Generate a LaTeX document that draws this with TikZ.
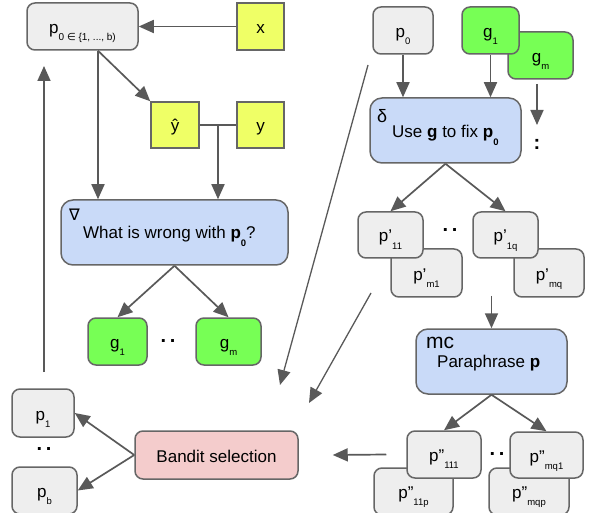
\documentclass[tikz,border=0pt]{standalone}
\usepackage{fontspec}
\setmainfont{Liberation Sans}
\newfontfamily\dejavu{DejaVu Sans}
\usetikzlibrary{arrows.meta}
\definecolor{edge}{HTML}{666666}
\definecolor{wire}{HTML}{595959}
\definecolor{grayfill}{HTML}{EEEEEE}
\definecolor{yellowfill}{HTML}{EFFF66}
\definecolor{greenfill}{HTML}{77FF55}
\definecolor{bluefill}{HTML}{C9DAF8}
\definecolor{pinkfill}{HTML}{F4CCCC}
\tikzset{
  block/.style={
    rectangle,
    rounded corners=8pt,
    draw=edge,
    line width=1.5pt,
    fill=grayfill,
    inner sep=0pt,
    minimum height=47pt,
    text height=20pt,
    text depth=6pt
  },
  varblock/.style={block, rounded corners=0pt, fill=yellowfill, minimum width=47pt},
  gradblock/.style={block, fill=greenfill},
  opblock/.style={block, rounded corners=12pt, fill=bluefill, minimum width=151pt, minimum height=65pt},
  selblock/.style={block, fill=pinkfill},
  dots/.style={font=\bfseries\fontsize{20}{20}\selectfont}
}
\tikzstyle{arrow} = [-{Triangle[length=15pt,width=13pt]}, draw=wire, line width=1.7pt]
\tikzstyle{thin arrow} = [arrow, line width=1.3pt]
\def\lo#1{\raisebox{-.8ex}{\fontsize{9.5}{9.5}\selectfont #1}}
\def\twodots{.\hspace{3.5pt}.}

\begin{document}
\begin{tikzpicture}[x=1pt, y=-1pt, font=\fontsize{17}{20}\selectfont]
    \useasboundingbox (0,0) rectangle (592,513);
    % left part
    \node[block, minimum width=111pt] (p0) at (82.5,26.5) {p\raisebox{-.8ex}{\fontsize{10}{10}\selectfont 0 {\dejavu ∈} \{1, ..., b)}};
    \node[varblock] (x) at (260.5,26.5) {x};
    \node[varblock, minimum width=48pt, minimum height=46pt] (yh) at (175,125) {ŷ};
    \node[varblock, minimum height=46pt] (y) at (260.5,125) {y};
    \node[opblock, minimum width=227pt] (what) at (174.5,232.5) {};
    \node[anchor=base west, inner sep=0pt, font=\dejavu\fontsize{16}{16}\selectfont] (nabla) at (69,221) {∇};
    \node[anchor=base west, inner sep=0pt] (whattxt) at (83,239) {What is wrong with \textbf{p\lo{0}}?};
    \node[gradblock, minimum width=59pt] (g1) at (117.5,341.5) {g\lo{1}};
    \node[gradblock, minimum width=65pt] (gm) at (228.5,341.5) {g\lo{m}};
    \node[dots] (gdots) at (168,341) {\twodots};
    \coordinate (join) at (218,125);
    \coordinate (back0) at (44,372);
    \coordinate (back1) at (44,66);
    \draw[arrow] (x) -- (p0);
    \draw[arrow] ([xshift=15.5pt]p0.south) -- (yh.north west);
    \draw[arrow] ([xshift=15.5pt]p0.south) -- ([xshift=-76.5pt]what.north);
    \draw[draw=wire, line width=1.7pt] (yh) -- (y);
    \draw[arrow] (join) -- (join |- what.north);
    \draw[arrow] (what.south) -- (g1.north);
    \draw[arrow] (what.south) -- (gm.north);
    \draw[arrow] (back0) -- (back1);
    % right part
    \node[block, minimum width=60pt] (p0r) at (403,30.5) {p\lo{0}};
    \node[gradblock, minimum width=65pt] (gmr) at (540.5,55.5) {g\lo{m}};
    \node[gradblock, minimum width=57pt] (g1r) at (490.5,30.5) {g\lo{1}};
    \node[opblock] (fix) at (445.5,130.5) {};
    \node[anchor=base west, inner sep=0pt, font=\fontsize{18}{18}\selectfont] (delta) at (377,123) {δ};
    \node[anchor=base west, inner sep=0pt] (fixtxt) at (392,138) {Use \textbf{g} to fix \textbf{p\lo{0}}};
    \node[dots] (gmdots) at (537,144) {:};
    \coordinate (gm0) at (537,84);
    \coordinate (gm1) at (537,125);
    \draw[arrow] (p0r.south) -- (p0r.south |- fix.north);
    \draw[arrow] (g1r.south) -- (g1r.south |- fix.north);
    \draw[arrow] (gm0) -- (gm1);
    \node[block, minimum width=71pt, minimum height=48pt] (pam1) at (426.5,273) {p'\lo{m1}};
    \node[block, minimum width=65pt, minimum height=46pt] (pa11) at (390.5,235) {p'\lo{11}};
    \node[block, minimum width=70pt, minimum height=48pt] (pamq) at (549,273) {p'\lo{mq}};
    \node[block, minimum width=65pt, minimum height=46pt] (pa1q) at (505.5,235) {p'\lo{1q}};
    \node[dots] (padots) at (450,230) {\twodots};
    \draw[arrow] (fix.south) -- (pa11.north);
    \draw[arrow] (fix.south) -- (pa1q.north);
    \node[opblock] (mc) at (491.5,361.5) {};
    \node[anchor=base west, inner sep=0pt, font=\fontsize{21}{21}\selectfont] (mclbl) at (426,348) {mc};
    \node[anchor=base west, inner sep=0pt] (mctxt) at (437,367) {Paraphrase \textbf{p}};
    \coordinate (mc0) at (491.5,296);
    \draw[arrow] (mc0) -- (mc.north);
    \node[block, minimum width=79pt] (pb11p) at (413.5,491.5) {p''\lo{11p}};
    \node[block, minimum width=74pt] (pb111) at (444,454.5) {p''\lo{111}};
    \node[block, minimum width=80pt] (pbmqp) at (529,491.5) {p''\lo{mqp}};
    \node[block, minimum width=73pt, minimum height=46pt] (pbmq1) at (546.5,455) {p''\lo{mq1}};
    \node[dots] (pbdots) at (497,454) {\twodots};
    \draw[arrow] (mc.south) -- (pb111.north);
    \draw[arrow] (mc.south) -- (pbmq1.north);
    % selection
    \node[selblock, minimum width=163pt, minimum height=48pt] (bandit) at (216.5,455) {Bandit selection};
    \node[block, minimum width=62pt, minimum height=48pt] (p1) at (43,413) {p\lo{1}};
    \node[block, minimum width=65pt] (pb) at (44.5,490.5) {p\lo{b}};
    \node[dots] (pdots) at (44,449) {\twodots};
    \coordinate (sel0) at ([xshift=-20pt]pb111.west);
    \coordinate (sel1) at ([xshift=34pt]bandit.east);
    \draw[arrow] (sel0) -- (sel1);
    \draw[arrow] (bandit.west) -- (p1.east);
    \draw[arrow] (bandit.west) -- (pb.east);
    \coordinate (d0) at (368,65);
    \coordinate (d1) at (280,385);
    \coordinate (d2) at (371,293);
    \coordinate (d3) at (309,403);
    \draw[thin arrow] (d0) -- (d1);
    \draw[thin arrow] (d2) -- (d3);
\end{tikzpicture}
\end{document}
